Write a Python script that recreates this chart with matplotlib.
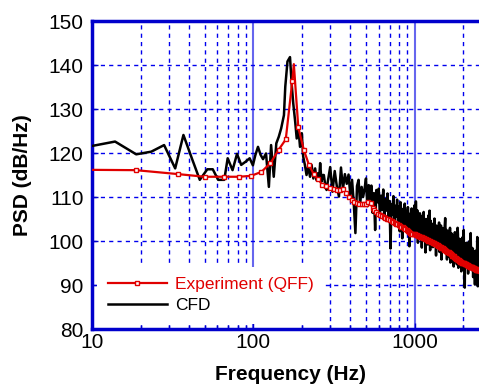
import numpy as np
import matplotlib
matplotlib.use("Agg")
import matplotlib.pyplot as plt
from matplotlib.ticker import FixedLocator, NullFormatter

plt.rcParams['font.family'] = ['Liberation Sans', 'DejaVu Sans']

# ---------------- data ----------------
x_ticks = [10, 100, 1000]
x_tick_labels = ["10", "100", "1000"]
y_ticks = [80, 90, 100, 110, 120, 130, 140, 150]
y_tick_labels = ["80", "90", "100", "110", "120", "130", "140", "150"]

# Experiment (QFF): frequency bins (df = 15.6 Hz) and PSD values
exp_f0 = 3.1
exp_df = 15.6
exp_psd = [
    116.3, 116.1, 115.2, 114.6, 114.6, 114.6, 114.8, 115.7, 117.7, 120.7,
    123.1, 136.4, 125.8, 120.7, 117.3, 115.2, 114.0, 112.8, 112.5, 112.1,
    111.8, 111.6, 111.6, 111.8, 110.8, 109.9, 109.3, 108.9, 108.7, 108.4,
    108.3, 108.3, 108.5, 108.9, 108.6, 107.5, 107.0, 106.5, 106.1, 105.9,
    105.6, 105.5, 105.3, 105.1, 104.9, 104.8, 104.6, 104.3, 104.1, 103.9,
    103.8, 103.6, 103.4, 103.2, 103.1, 102.9, 102.7, 102.5, 102.3, 102.1,
    101.9, 101.7, 101.6, 101.5, 101.5, 101.4, 101.3, 101.2, 101.1, 101.0,
    100.9, 100.8, 100.7, 100.6, 100.5, 100.4, 100.3, 100.2, 100.1, 100.0,
    99.9, 99.8, 99.7, 99.6, 99.5, 99.5, 99.4, 99.3, 99.2, 99.0,
    98.9, 98.8, 98.7, 98.6, 98.5, 98.4, 98.3, 98.1, 98.0, 97.9,
    97.8, 97.7, 97.6, 97.5, 97.4, 97.3, 97.2, 97.1, 97.0, 96.8,
    96.7, 96.6, 96.5, 96.3, 96.2, 96.1, 96.0, 95.9, 95.8, 95.7,
    95.6, 95.5, 95.4, 95.3, 95.2, 95.2, 95.1, 95.1, 95.0, 95.0,
    94.9, 94.8, 94.8, 94.7, 94.7, 94.6, 94.5, 94.5, 94.4, 94.4,
    94.3, 94.2, 94.2, 94.1, 94.1, 94.0, 94.0, 93.9, 93.9, 93.8,
    93.8, 93.7, 93.7, 93.6, 93.6, 93.5, 93.5, 93.5, 93.4, 93.4,
    93.4, 93.3, 93.3, 93.3, 93.2, 93.2, 93.2, 93.1, 93.1, 93.1,
    93.1, 93.0, 93.0, 93.0, 93.0, 92.9, 92.9,
]
# resonance apex between bins (line only, no marker)
exp_apex_f = 178.5
exp_apex_psd = 140.2

# CFD: low-frequency part (explicit frequencies)
cfd_low_f = [
    10, 13.9, 18.8, 23.3, 28.0, 32.8, 36.9, 41.6, 46.6, 51.9,
    56.1, 60.6, 66.1, 69.4, 74.4, 79.3, 84.2, 89.5, 95.0, 99.5,
    103, 107, 111, 115, 120, 125, 129, 134, 139, 144,
    149, 155, 158, 163, 169, 173, 177, 182, 186, 191,
    195, 200, 204, 209, 214, 219, 225, 230, 236, 242,
    247, 252, 256, 260, 265, 270, 274, 280, 285,
]
cfd_low_psd = [
    121.6, 122.6, 119.7, 120.3, 121.8, 116.5, 124.1, 118.8, 113.9, 116.3,
    116.3, 113.9, 113.9, 118.8, 116.1, 119.8, 117.3, 118.0, 118.8, 117.2,
    119.5, 121.4, 119.6, 118.6, 119.9, 112.3, 121.8, 114.6, 122.2, 123.7,
    125.6, 128.6, 135.1, 140.8, 141.8, 135.8, 131.3, 127.1, 123.3, 125.2,
    121.4, 124.5, 119.2, 117.3, 115.0, 116.9, 114.6, 117.3, 114.2, 116.5,
    113.8, 115.4, 114.0, 117.7, 113.5, 115.0, 115.0, 112.5, 111.6,
]
# CFD: high-frequency part, 10 Hz bins starting at 290 Hz
cfd_high_f0 = 290
cfd_high_df = 10
cfd_high_psd = [
    113.5, 116.8, 111.2, 115.9, 112.4, 110.1, 116.7, 111.8, 115.2, 113.0,
    115.1, 110.4, 113.9, 108.6, 101.8, 112.5, 113.9, 108.2, 112.3, 110.0,
    111.8, 114.2, 107.9, 112.7, 109.3, 112.6, 106.4, 110.9, 102.5, 111.6,
    108.8, 111.9, 105.6, 110.3, 107.1, 111.7, 104.8, 109.5, 106.9, 110.8,
    105.2, 109.1, 98.3, 108.4, 106.0, 110.2, 103.9, 108.0, 105.5, 109.4,
    104.6, 107.9, 102.2, 108.8, 105.1, 100.6, 107.3, 104.0, 108.5, 103.4,
    106.8, 102.9, 107.7, 104.5, 98.8, 106.2, 103.2, 107.4, 101.9, 105.6,
    103.8, 108.1, 100.9, 109.0, 102.5, 107.0, 99.6, 104.8, 101.4, 106.3,
    102.2, 105.7, 98.5, 104.6, 101.1, 106.6, 100.0, 103.7, 97.4, 105.0,
    101.6, 104.9, 99.2, 105.8, 100.5, 106.9, 97.9, 104.6, 101.0, 99.7,
    103.9, 98.6, 102.8, 100.7, 105.1, 99.4, 102.8, 96.7, 103.5, 100.8,
    98.8, 102.6, 99.9, 104.2, 97.5, 101.7, 99.5, 103.5, 95.8, 101.3,
    99.4, 102.9, 97.7, 101.1, 98.6, 103.4, 105.2, 101.4, 99.1, 102.5,
    95.8, 100.6, 98.3, 102.3, 96.5, 100.1, 97.8, 103.0, 95.1, 99.7,
    97.5, 101.7, 96.1, 100.4, 97.3, 101.2, 94.2, 99.3, 96.8, 102.0,
    95.6, 99.8, 98.1, 100.9, 94.7, 98.9, 103.0, 101.5, 93.9, 98.5,
    97.1, 100.5, 95.4, 99.2, 96.3, 100.3, 93.1, 98.4, 95.9, 100.8,
    94.5, 98.7, 96.9, 102.5, 93.6, 98.0, 89.4, 99.4, 95.2, 97.7,
    96.4, 99.6, 94.1, 98.2, 94.9, 99.1, 92.6, 97.4, 95.5, 99.9,
    93.8, 97.9, 96.1, 98.8, 101.8, 97.2, 94.6, 98.5, 93.4, 96.7,
    95.3, 98.3, 91.8, 96.5, 94.3, 97.6, 93.0, 96.2, 90.1, 97.3,
    94.0, 97.8, 94.8, 95.8, 92.4, 97.0, 100.9, 98.1, 89.7, 95.6,
    94.4, 96.8, 92.8, 96.4, 93.7, 97.4, 91.6, 95.1, 93.3, 96.6,
    90.4, 95.9, 94.2, 101.2, 92.1, 95.4, 92.9, 96.3, 89.9, 95.0,
    93.2, 95.7, 91.9, 94.7, 93.8, 89.6, 94.5,
]

# ---------------- build series ----------------
exp_f = exp_f0 + exp_df * np.arange(len(exp_psd))
apex_idx = int(np.searchsorted(exp_f, exp_apex_f))
exp_f_line = np.insert(exp_f, apex_idx, exp_apex_f)
exp_psd_line = np.insert(np.array(exp_psd), apex_idx, exp_apex_psd)
mark_idx = [i for i in range(len(exp_f_line)) if i != apex_idx]

cfd_f = np.concatenate([cfd_low_f, cfd_high_f0 + cfd_high_df * np.arange(len(cfd_high_psd))])
cfd_psd = np.concatenate([cfd_low_psd, cfd_high_psd])

# ---------------- plot ----------------
W, H = 479, 384
fig = plt.figure(figsize=(W / 100, H / 100), dpi=100)
ax = fig.add_axes([92 / W, 1 - 329 / H, 1 - 92 / W + 0.02, (329 - 21) / H])

blue = '#0000CC'
ax.set_xscale('log')
ax.set_xlim(10, 2880)
ax.set_ylim(80, 150)

ax.plot(cfd_f, cfd_psd, color='black', lw=1.8, label='CFD', zorder=3)
ax.plot(exp_f_line, exp_psd_line, color='#E00000', lw=1.6, marker='s', ms=3.4,
        mfc='white', mec='#E00000', mew=1.0, markevery=mark_idx,
        label='Experiment (QFF)', zorder=4)

# grids
ax.xaxis.set_major_locator(FixedLocator(x_ticks))
ax.set_xticklabels(x_tick_labels)
minor = [m * d for d in (10, 100, 1000) for m in range(2, 10)]
ax.xaxis.set_minor_locator(FixedLocator(minor))
ax.xaxis.set_minor_formatter(NullFormatter())
ax.set_yticks(y_ticks)
ax.set_yticklabels(y_tick_labels)

ax.grid(True, which='minor', axis='x', color='#0000EE', ls=(0, (3, 3)), lw=1.0, zorder=1)
ax.grid(True, which='major', axis='x', color='#6666EE', ls='-', lw=1.5, zorder=1)
ax.grid(True, which='major', axis='y', color='#0000EE', ls=(0, (3, 3)), lw=1.0, zorder=1)
ax.set_axisbelow(True)

for s in ['left', 'bottom', 'top']:
    ax.spines[s].set_color(blue)
    ax.spines[s].set_linewidth(2.5)
ax.spines['right'].set_visible(False)

ax.tick_params(axis='both', which='major', direction='in', color=blue, length=4,
               width=1, labelsize=15, labelcolor='black')
ax.tick_params(axis='x', which='major', pad=3)
ax.tick_params(axis='y', which='major', pad=6)
ax.tick_params(axis='x', which='minor', direction='in', color=blue, length=3, width=1)

ax.set_xlabel('Frequency (Hz)', fontsize=15, fontweight='bold', labelpad=9)
ax.set_ylabel('PSD (dB/Hz)', fontsize=15, fontweight='bold', labelpad=12)

leg = ax.legend(handles=ax.get_lines()[::-1], loc='lower left', bbox_to_anchor=(0.0, 0.0),
                frameon=True, fancybox=False, edgecolor='none', facecolor='white',
                framealpha=1, fontsize=12.5, handlelength=3.4, numpoints=1,
                labelcolor='linecolor', borderaxespad=0.3, borderpad=0.6,
                handletextpad=0.5, labelspacing=0.35)
leg.set_zorder(5)

fig.savefig('out.png', dpi=100)
